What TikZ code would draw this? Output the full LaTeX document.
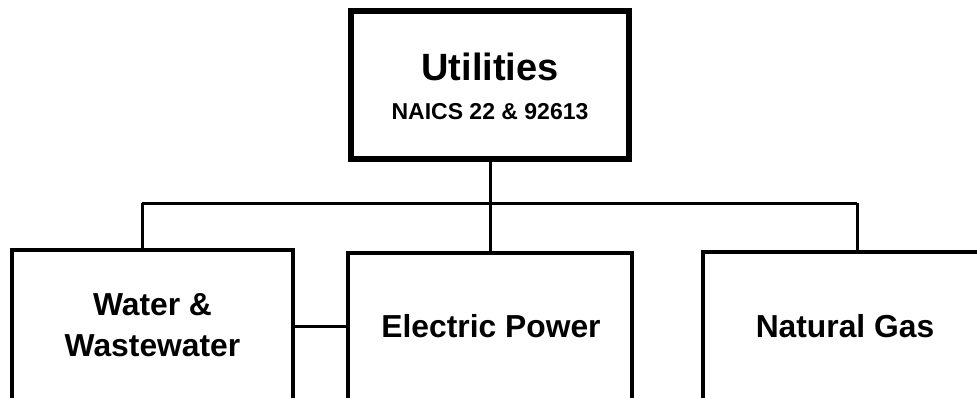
\documentclass[tikz,border=0pt]{standalone}
\usepackage{fontspec}
\setmainfont{Liberation Sans}
\begin{document}
\begin{tikzpicture}[x=1pt, y=-1pt,
  box/.style={draw, line width=4pt, inner sep=0pt, minimum width=284pt, minimum height=152pt},
  link/.style={line width=3pt},
  boxlabel/.style={anchor=base, font=\bfseries\fontsize{31.8}{36}\selectfont}]
\useasboundingbox (0,0) rectangle (977,397);
\clip (0,0) rectangle (977,397);
% boxes
\node[box, line width=6pt, minimum width=278pt, minimum height=148pt] (util) at (490,85) {};
\node[box, minimum width=281pt] (water) at (152.5,326) {};
\node[box] (elec) at (490,329) {};
\node[box] (gas) at (845,328) {};
% labels
\node[anchor=base, font=\bfseries\fontsize{38}{40}\selectfont] (utilname) at (490,80) {Utilities};
\node[anchor=base, font=\bfseries\fontsize{23}{26}\selectfont] (utilcode) at (490,119) {NAICS 22 \& 92613};
\node[boxlabel] (waterline1) at (152.5,315) {Water \&};
\node[boxlabel] (waterline2) at (152.5,356) {Wastewater};
\node[boxlabel] (elecname) at (491,337) {Electric Power};
\node[boxlabel] (gasname) at (845,337) {Natural Gas};
% connectors
\coordinate (busl) at (142,203);
\coordinate (busr) at (857,203);
\draw[link] (util.south) -- (elec.north);
\draw[link] (busl) -- (busr);
\draw[link] (busl) -- (busl |- water.north);
\draw[link] (busr) -- (busr |- gas.north);
\draw[link] (water.east) -- (water.east -| elec.west);
\end{tikzpicture}
\end{document}
